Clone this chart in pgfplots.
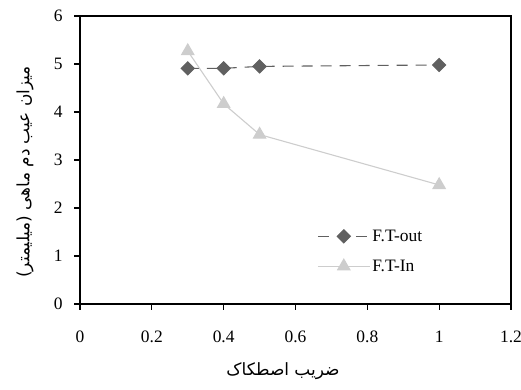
\documentclass[border=0pt]{standalone}
\usepackage{fontspec}
\usepackage{pgfplots}
\pgfplotsset{compat=1.18}
\setmainfont{Liberation Serif}
\newfontfamily\arabicfont[Script=Arabic]{DejaVu Sans}
\TeXXeTstate=1
\definecolor{outc}{RGB}{96,96,96}
\definecolor{inc}{RGB}{205,205,205}
\begin{document}
\begin{tikzpicture}
\useasboundingbox (0,0) rectangle (521bp,390bp);
\begin{axis}[
  at={(80bp,86bp)}, anchor=south west,
  scale only axis, width=431bp, height=288bp,
  xmin=0, xmax=1.2, ymin=0, ymax=6,
  xtick={0,0.2,0.4,0.6,0.8,1,1.2},
  xticklabels={0,0.2,0.4,0.6,0.8,1,1.2},
  ytick={0,1,2,3,4,5,6},
  xtick pos=left, ytick pos=left,
  tick align=outside, major tick length=6bp,
  axis line style={line width=1.3pt},
  every tick/.style={black, line width=1.2pt},
  tick label style={font=\fontsize{17.5}{19}\selectfont},
  /pgf/number format/assume math mode=true,
  xticklabel style={yshift=-17bp},
  yticklabel style={xshift=-8bp},
  legend style={draw=none, fill=none, at={(rel axis cs:0.55,0.265)}, anchor=north west,
    font=\fontsize{17.5}{19}\selectfont, row sep=13bp, inner sep=0pt,
    /tikz/every even column/.append style={column sep=2bp}},
  legend cell align=left,
  legend image code/.code={%
    \draw[mark repeat=2,mark phase=2,#1] plot coordinates {(0bp,0bp) (26bp,0bp) (52bp,0bp)};},
]
\addplot[color=outc, line width=1.1pt, dash pattern=on 11bp off 8bp,
  mark=square*, mark size=4.6bp, mark options={solid, rotate=45, fill=outc, draw=outc}]
  coordinates {(0.3,4.91) (0.4,4.91) (0.5,4.95) (1,4.98)};
\addlegendentry{F.T-out}
\addplot[color=inc, line width=1.1pt,
  mark=triangle*, mark size=7bp, mark options={solid, fill=inc, draw=inc}]
  coordinates {(0.3,5.27) (0.4,4.17) (0.5,3.53) (1,2.48)};
\addlegendentry{F.T-In}
\end{axis}
\node[font=\arabicfont\fontsize{17}{19}\selectfont] at (283bp,19bp) {\beginR ضریب اصطکاک\endR};
\node[font=\arabicfont\fontsize{17}{19}\selectfont, rotate=90] at (25bp,218bp) {\beginR میزان عیب دم ماهی (میلیمتر)\endR};
\end{tikzpicture}
\end{document}
